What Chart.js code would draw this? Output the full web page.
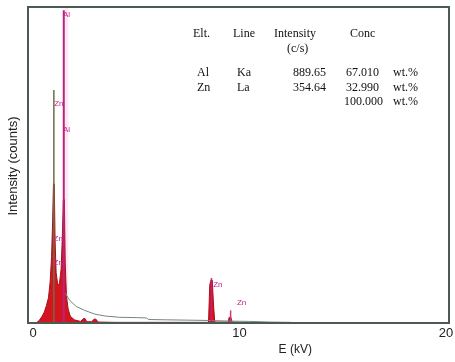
<!DOCTYPE html>
<html lang="en">
<head>
<meta charset="UTF-8">
<title>EDS spectrum</title>
<style>
  html, body { margin: 0; padding: 0; background: #fff; }
  #wrap { width: 455px; height: 362px; position: relative; }
</style>
</head>
<body>
<div id="wrap"><canvas id="eds" width="455" height="362"></canvas></div>
<script src="https://cdn.jsdelivr.net/npm/chart.js"></script>
<script>
// spectrum (energy in kV, counts)
const specE = [0.15, 0.3, 0.45, 0.55, 0.65, 0.75, 0.83, 0.9, 0.95, 0.99, 1.03, 1.07, 1.12, 1.2, 1.28, 1.36, 1.42, 1.47, 1.52, 1.56, 1.62, 1.7, 1.8, 2.0, 2.3, 2.45, 2.52, 2.6, 2.85, 2.95, 3.05, 3.15, 4.0, 6.0, 8.5, 8.56, 8.62, 8.68, 8.74, 8.8, 9.45, 9.5, 9.58, 9.64, 10.5, 12.0];
const specC = [0, 8, 22, 35, 55, 80, 130, 210, 320, 440, 440, 260, 160, 120, 125, 170, 270, 390, 390, 190, 85, 45, 22, 10, 5, 14, 14, 4, 4, 12, 12, 3, 2, 2, 2, 120, 136, 136, 60, 3, 3, 18, 18, 3, 1, 0];

// continuum background
const bgE = [1.55, 1.8, 2.1, 2.5, 3.0, 3.5, 4.2, 5.0, 5.5, 5.6, 6.5, 7.5, 8.5, 9.5, 10.5, 11.5, 12.5];
const bgC = [95, 70, 52, 40, 28, 22, 18, 17, 16, 11, 10, 9, 8, 6, 5, 3, 2];

// element marker lines
const markE = [1.49, 1.01, 8.64, 9.57];
const markTop = [990, 737, 142, 40];
const markColor = ['#b8237d', '#6e6c48', '#c81f6a', '#c8407a'];

// peak labels
const labelText = ['Al', 'Zn', 'Al', 'Zn', 'Zn', 'Zn', 'Zn'];
const labelE = [1.62, 1.25, 1.62, 1.22, 1.22, 8.95, 10.1];
const labelC = [975, 695, 610, 265, 190, 122, 64];

// quantification table
const tableHead = ['Elt.', 'Line', 'Intensity', 'Conc'];
const tableElt = ['Al', 'Zn'];
const tableLine = ['Ka', 'La'];
const tableInt = ['889.65', '354.64'];
const tableConc = ['67.010', '32.990'];
const tableTotal = '100.000';

const xTicks = [0, 10, 20];

const pts = (xs, ys) => xs.map((x, i) => ({ x: x, y: ys[i] }));

const datasets = [
  {
    data: [{ x: 1.53, y: 1000 }, { x: 1.72, y: 1000 }],
    showLine: true, fill: 'origin', borderWidth: 0,
    backgroundColor: 'rgba(255,190,215,0.35)', pointRadius: 0, order: 5
  },
  {
    data: pts(specE, specC),
    showLine: true, fill: 'origin', borderWidth: 1,
    borderColor: '#a80f1a', backgroundColor: '#d4141e', pointRadius: 0, order: 3
  },
  {
    data: pts(bgE, bgC),
    showLine: true, fill: false, borderWidth: 1,
    borderColor: '#75857d', pointRadius: 0, order: 2
  }
];
markE.forEach((e, i) => {
  datasets.push({
    data: [{ x: e, y: 0 }, { x: e, y: markTop[i] }],
    showLine: true, fill: false, borderWidth: i === 0 ? 2 : 1.5,
    borderColor: markColor[i], pointRadius: 0, order: 1
  });
});

const decor = {
  id: 'decor',
  afterDatasetsDraw(chart) {
    const ctx = chart.ctx;
    const a = chart.chartArea;
    const xs = chart.scales.x, ys = chart.scales.y;
    ctx.save();

    // peak labels
    ctx.fillStyle = '#c8208a';
    ctx.font = '8px "Liberation Sans", Arial, sans-serif';
    ctx.textAlign = 'center';
    ctx.textBaseline = 'middle';
    labelText.forEach((t, i) => {
      ctx.fillText(t, xs.getPixelForValue(labelE[i]), ys.getPixelForValue(labelC[i]));
    });

    // plot frame
    ctx.strokeStyle = '#4c5a56';
    ctx.lineWidth = 2;
    ctx.strokeRect(a.left, a.top, a.right - a.left, a.bottom - a.top);

    // x tick labels and title
    ctx.fillStyle = '#222';
    ctx.font = '13px "Liberation Sans", Arial, sans-serif';
    ctx.textBaseline = 'top';
    xTicks.forEach(v => {
      ctx.fillText(String(v), xs.getPixelForValue(v), a.bottom + 4);
    });
    ctx.font = '12px "Liberation Sans", Arial, sans-serif';
    ctx.fillText('E (kV)', xs.getPixelForValue(12.7), a.bottom + 21);

    // y title
    ctx.save();
    ctx.translate(13, 166);
    ctx.rotate(-Math.PI / 2);
    ctx.textBaseline = 'middle';
    ctx.font = '13px "Liberation Sans", Arial, sans-serif';
    ctx.fillText('Intensity (counts)', 0, 0);
    ctx.restore();

    // table
    ctx.fillStyle = '#111';
    ctx.font = '12px "Liberation Serif", "Times New Roman", serif';
    ctx.textBaseline = 'alphabetic';
    ctx.textAlign = 'left';
    const colX = [193, 233, 274, 350];
    tableHead.forEach((t, i) => ctx.fillText(t, colX[i], 37));
    ctx.fillText('(c/s)', 287, 52);
    const rowY = [76, 91];
    tableElt.forEach((t, i) => {
      ctx.textAlign = 'left';
      ctx.fillText(t, 197, rowY[i]);
      ctx.fillText(tableLine[i], 237, rowY[i]);
      ctx.textAlign = 'right';
      ctx.fillText(tableInt[i], 326, rowY[i]);
      ctx.fillText(tableConc[i], 379, rowY[i]);
      ctx.textAlign = 'left';
      ctx.fillText('wt.%', 393, rowY[i]);
    });
    ctx.textAlign = 'right';
    ctx.fillText(tableTotal, 383, 105);
    ctx.textAlign = 'left';
    ctx.fillText('wt.%', 393, 105);
    ctx.restore();
  }
};

new Chart(document.getElementById('eds'), {
  type: 'scatter',
  data: { datasets: datasets },
  options: {
    responsive: false,
    animation: false,
    layout: { padding: { left: 28, top: 7, right: 6, bottom: 39 } },
    plugins: { legend: { display: false }, tooltip: { enabled: false } },
    scales: {
      x: { type: 'linear', min: -0.242, max: 20.145, display: false },
      y: { type: 'linear', min: 0, max: 1000, display: false }
    }
  },
  plugins: [decor]
});
</script>
</body>
</html>
